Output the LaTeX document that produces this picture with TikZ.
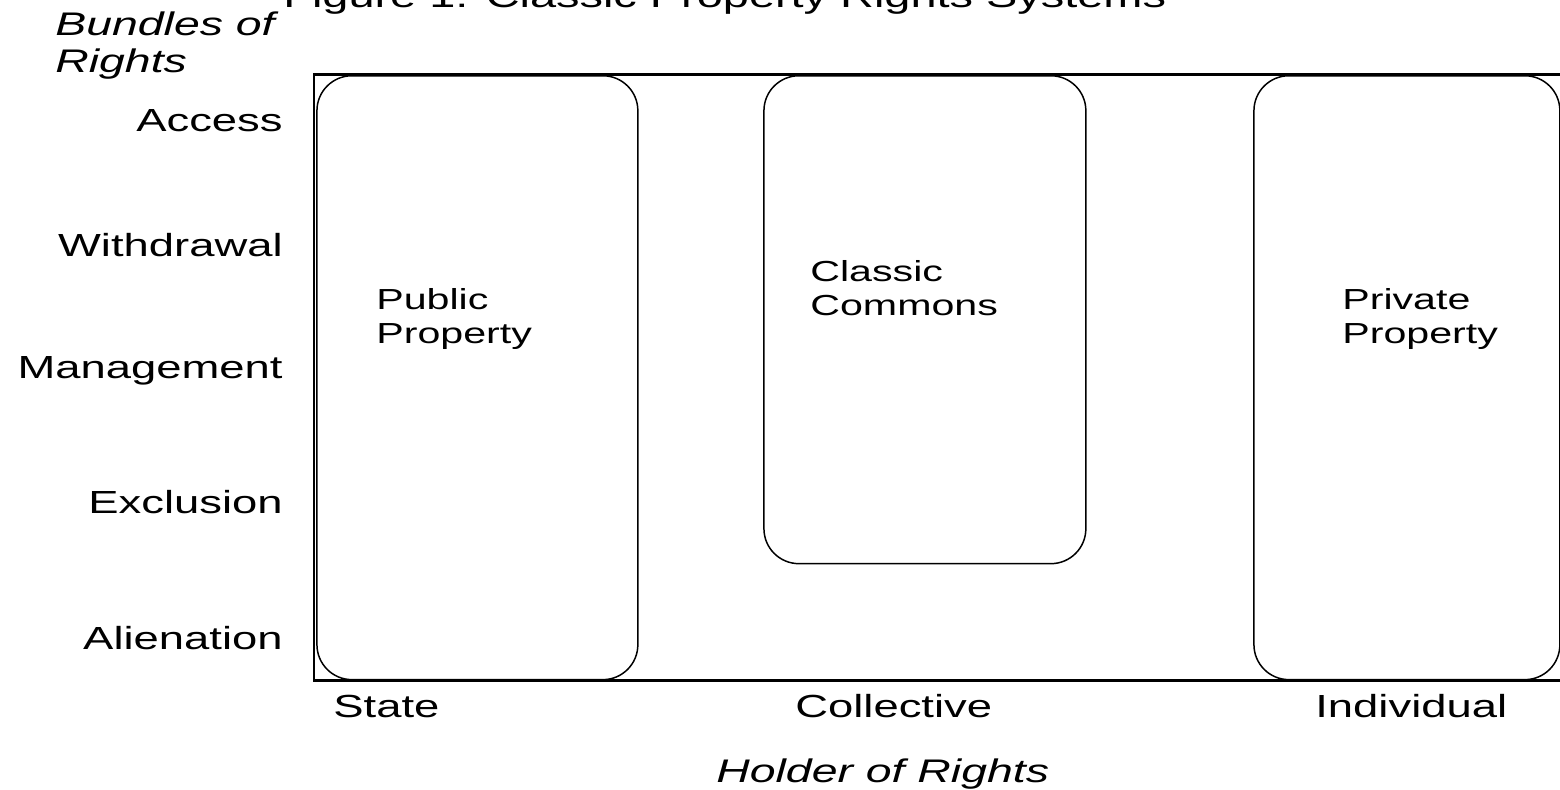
\documentclass[tikz,border=0pt]{standalone}
\usepackage{fontspec}
\setmainfont{Liberation Sans}[FakeStretch=1.42]
\usetikzlibrary{positioning}

\begin{document}
\begin{tikzpicture}[x=0.02cm,y=-0.02cm,
  txt/.style={inner sep=0pt,font=\fontsize{18.2}{22}\selectfont},
  axis/.style={inner sep=0pt,align=left,font=\fontsize{18.6}{21}\selectfont\itshape},
  heading/.style={inner sep=0pt,font=\fontsize{18.8}{22}\selectfont},
  boxtxt/.style={inner sep=0pt,align=left,font=\fontsize{16.5}{18.8}\selectfont},
  regime/.style={draw,line width=0.85pt,rounded corners=0.7cm,xscale=1.26,inner sep=0pt,anchor=north west},
  frame/.style={line width=1.7pt}]
  \useasboundingbox (0,0) rectangle (1560,789);
  \node[heading,anchor=base west] (title) at (283,7) {Figure 1: Classic Property Rights Systems};
  \node[axis,anchor=base west] (bundles) at (55,72) {Bundles of\\Rights};
  \draw[frame] (314,74) rectangle (1562,680);
  \node[regime,minimum width=5.095cm,minimum height=12.08cm] (public) at (316,75) {};
  \node[regime,minimum width=5.111cm,minimum height=9.76cm] (commons) at (763,75) {};
  \node[regime,minimum width=4.857cm,minimum height=12.08cm] (private) at (1253,75) {};
  \node[boxtxt,anchor=base west] (publictxt) at (376,343) {Public\\Property};
  \node[boxtxt,anchor=base west] (commonstxt) at (810,315) {Classic\\Commons};
  \node[boxtxt,anchor=base west] (privatetxt) at (1342,343) {Private\\Property};
  \node[txt,anchor=base east] (access) at (283,131) {Access};
  \node[txt,anchor=base east] (withdrawal) at (283,256) {Withdrawal};
  \node[txt,anchor=base east] (management) at (283,378) {Management};
  \node[txt,anchor=base east] (exclusion) at (283,513) {Exclusion};
  \node[txt,anchor=base east] (alienation) at (283,649) {Alienation};
  \node[txt,anchor=base west] (state) at (333,717) {State};
  \node[txt,anchor=base west] (collective) at (795,717) {Collective};
  \node[txt,anchor=base west] (individual) at (1315,717) {Individual};
  \node[axis,anchor=base west] (holder) at (716,782) {Holder of Rights};
\end{tikzpicture}
\end{document}
